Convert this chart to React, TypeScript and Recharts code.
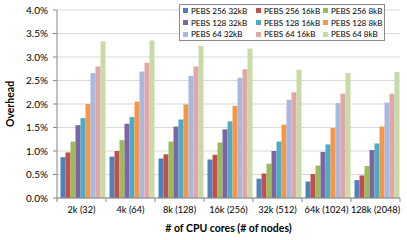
import React from 'react';
import { BarChart, Bar, XAxis, YAxis, CartesianGrid, Legend } from 'recharts';

const categories = ['2k (32)', '4k (64)', '8k (128)', '16k (256)', '32k (512)', '64k (1024)', '128k (2048)'];

const seriesNames = [
  'PEBS 256 32kB', 'PEBS 256 16kB', 'PEBS 256 8kB',
  'PEBS 128 32kB', 'PEBS 128 16kB', 'PEBS 128 8kB',
  'PEBS 64 32kB', 'PEBS 64 16kB', 'PEBS 64 8kB',
];

const seriesColors = [
  '#4F81BD', '#C0504D', '#9BBB59',
  '#8064A2', '#4BACC6', '#F79646',
  '#A7B9DF', '#DFA7A6', '#C9DAA6',
];

// overhead in percent
const pebs256_32kB = [0.87, 0.88, 0.84, 0.82, 0.41, 0.35, 0.38];
const pebs256_16kB = [0.97, 1.00, 0.93, 0.92, 0.52, 0.51, 0.48];
const pebs256_8kB = [1.20, 1.23, 1.20, 1.18, 0.73, 0.69, 0.68];
const pebs128_32kB = [1.55, 1.58, 1.52, 1.46, 1.00, 0.98, 1.02];
const pebs128_16kB = [1.70, 1.72, 1.67, 1.63, 1.20, 1.14, 1.16];
const pebs128_8kB = [2.00, 2.05, 1.99, 1.96, 1.56, 1.49, 1.52];
const pebs64_32kB = [2.66, 2.69, 2.60, 2.56, 2.09, 2.02, 2.03];
const pebs64_16kB = [2.80, 2.88, 2.80, 2.74, 2.25, 2.22, 2.22];
const pebs64_8kB = [3.33, 3.35, 3.24, 3.18, 2.73, 2.66, 2.68];

const yTicks = [0, 0.5, 1.0, 1.5, 2.0, 2.5, 3.0, 3.5, 4.0];

const seriesValues = [
  pebs256_32kB, pebs256_16kB, pebs256_8kB,
  pebs128_32kB, pebs128_16kB, pebs128_8kB,
  pebs64_32kB, pebs64_16kB, pebs64_8kB,
];

const data = categories.map((c, i) => {
  const row: Record<string, string | number> = { category: c };
  seriesNames.forEach((n, k) => {
    row[n] = seriesValues[k][i];
  });
  return row;
});

const FONT = 'Lato, "Open Sans", sans-serif';

const XTick = (props: any) => {
  const { x, y, payload, index, visibleTicksCount } = props;
  const half = payload && typeof payload.offset === 'number' && payload.offset > 0 ? payload.offset : 24.5;
  const axisY = y - 8;
  return (
    <g>
      <line x1={x - half} x2={x - half} y1={axisY} y2={axisY + 4} stroke="#868686" />
      {index === (visibleTicksCount ?? categories.length) - 1 && (
        <line x1={x + half} x2={x + half} y1={axisY} y2={axisY + 4} stroke="#868686" />
      )}
      <text x={x} y={y} dy="0.71em" textAnchor="middle" fontSize={9.2} fill="#000" fontFamily={FONT}>
        {payload.value}
      </text>
    </g>
  );
};

const LegendBox = () => (
  <div
    style={{
      boxSizing: 'border-box',
      width: 206,
      height: 37,
      border: '1px solid #8a8a8a',
      background: '#fff',
      padding: '0px 0 0 3px',
      display: 'grid',
      gridTemplateColumns: '73px 67px 62px',
      gridAutoRows: '11.7px',
      fontFamily: FONT,
      fontSize: 8.1,
      color: '#000',
    }}
  >
    {seriesNames.map((n, k) => (
      <div key={n} style={{ display: 'flex', alignItems: 'center', whiteSpace: 'nowrap' }}>
        <span style={{ display: 'inline-block', width: 5, height: 5, background: seriesColors[k], marginRight: 3 }} />
        <span>{n}</span>
      </div>
    ))}
  </div>
);

export default function App() {
  return (
    <div style={{ position: 'absolute', left: 0, top: 0, width: 407, height: 240, background: '#fff' }}>
      <BarChart
        width={407}
        height={240}
        data={data}
        margin={{ top: 10, right: 7, bottom: 0, left: 0 }}
        barCategoryGap={3.5}
        barGap={0}
      >
        <CartesianGrid vertical={false} stroke="#d9d9d9" />
        <XAxis
          dataKey="category"
          height={42}
          tickLine={false}
          tickSize={0}
          tickMargin={8}
          axisLine={{ stroke: '#868686' }}
          tick={<XTick />}
          interval={0}
          label={{
            value: '# of CPU cores (# of nodes)',
            position: 'insideBottom',
            offset: 8,
            style: { fontFamily: FONT, fontSize: 10.5, fontWeight: 700, fill: '#000' },
          }}
        />
        <YAxis
          width={57}
          domain={[0, 4]}
          ticks={yTicks}
          tickFormatter={(v: number) => v.toFixed(1) + '%'}
          tick={{ fontSize: 10, fill: '#000', fontFamily: FONT }}
          tickSize={4}
          tickMargin={5}
          tickLine={{ stroke: '#868686' }}
          axisLine={{ stroke: '#868686' }}
          label={{
            value: 'Overhead',
            angle: -90,
            position: 'insideLeft',
            offset: 10,
            style: { textAnchor: 'middle', fontFamily: FONT, fontSize: 10.5, fontWeight: 700, fill: '#000' },
          }}
        />
        <Legend
          layout="vertical"
          align="center"
          verticalAlign="middle"
          content={<LegendBox />}
          wrapperStyle={{ left: 179, top: 4, width: 206, height: 37 }}
        />
        {seriesNames.map((n, k) => (
          <Bar key={n} dataKey={n} fill={seriesColors[k]} isAnimationActive={false} />
        ))}
      </BarChart>
    </div>
  );
}
